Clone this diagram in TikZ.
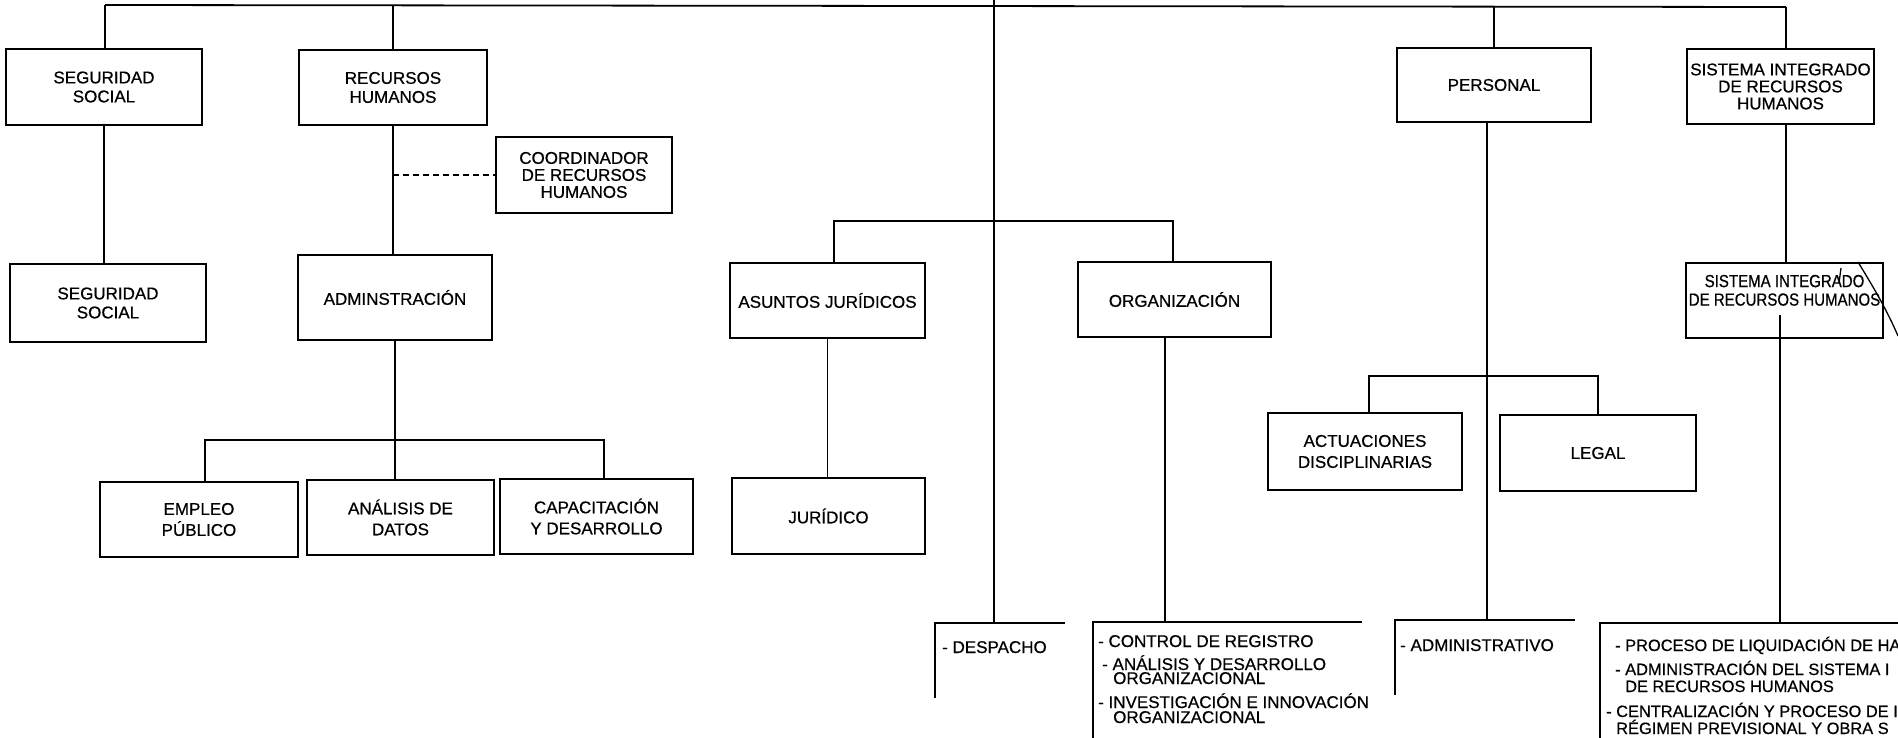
\documentclass[tikz,border=0pt]{standalone}
\usepackage{fontspec}
\setmainfont{Liberation Sans}[FakeBold=0.6]
\newfontfamily\narrowfont{Liberation Sans}[FakeStretch=0.86,FakeBold=0.6]
\begin{document}
\begin{tikzpicture}[x=1pt,y=-1pt,
  unit/.style={draw, line width=1.8pt, inner sep=1pt, outer sep=0pt, align=center,
    font=\fontsize{17}{19}\selectfont},
  tight/.style={font=\fontsize{17}{17}\selectfont},
  loose/.style={font=\fontsize{17}{21}\selectfont},
  ln/.style={line width=1.8pt},
  item/.style={anchor=base west, inner sep=0pt, font=\fontsize{17}{19}\selectfont},
  smallitem/.style={item, font=\fontsize{16.4}{19}\selectfont},
  pen/.style={line width=1.3pt}]
\useasboundingbox (0,0) rectangle (1898,738);
\clip (0,0) rectangle (1898,738);

% ---- boxes ----
\node[unit, minimum width=196pt, minimum height=76pt] (ss1) at (104,87) {SEGURIDAD\\SOCIAL};
\node[unit, minimum width=188pt, minimum height=75pt] (rh) at (393,87.5) {RECURSOS\\HUMANOS};
\node[unit, tight, minimum width=176pt, minimum height=76pt] (coord) at (584,175) {COORDINADOR\\DE RECURSOS\\HUMANOS};
\node[unit, minimum width=196pt, minimum height=78pt] (ss2) at (108,303) {SEGURIDAD\\SOCIAL};
\node[unit, minimum width=194pt, minimum height=85pt] (admin) at (395,297.5) {ADMINSTRACIÓN};
\node[unit, loose, minimum width=198pt, minimum height=75pt] (empleo) at (199,519.5) {EMPLEO\\PÚBLICO};
\node[unit, loose, minimum width=187pt, minimum height=75pt] (analisis) at (400.5,517.5) {ANÁLISIS DE\\DATOS};
\node[unit, loose, minimum width=193pt, minimum height=75pt] (capac) at (596.5,516.5) {CAPACITACIÓN\\Y DESARROLLO};
\node[unit, minimum width=193pt, minimum height=76pt] (jur) at (828.5,516) {JURÍDICO};
\node[unit, minimum width=195pt, minimum height=75pt] (asuntos) at (827.5,300.5) {ASUNTOS JURÍDICOS};
\node[unit, minimum width=193pt, minimum height=75pt] (org) at (1174.5,299.5) {ORGANIZACIÓN};
\node[unit, minimum width=194pt, minimum height=74pt] (personal) at (1494,85) {PERSONAL};
\node[unit, loose, minimum width=194pt, minimum height=77pt] (actu) at (1365,451.5) {ACTUACIONES\\DISCIPLINARIAS};
\node[unit, minimum width=196pt, minimum height=76pt] (legal) at (1598,453) {LEGAL};
\node[unit, tight, minimum width=187pt, minimum height=75pt] (sir1) at (1780.5,86.5) {SISTEMA INTEGRADO\\DE RECURSOS\\HUMANOS};
\node[unit, font=\narrowfont\fontsize{17.5}{18.5}\selectfont, minimum width=197pt, minimum height=75pt] (sir2) at (1784.5,300.5) {SISTEMA INTEGRADO\\DE RECURSOS HUMANOS\\[2pt]};

% ---- coordinates ----
\coordinate (tl) at (105,5);
\coordinate (tr) at (1786,7);
\coordinate (mtop) at (994,0);
\coordinate (b1l) at (205,440);
\coordinate (b1r) at (604,440);
\coordinate (b2l) at (834,221);
\coordinate (b2r) at (1173,221);
\coordinate (b3l) at (1369,376);
\coordinate (b3r) at (1598,376);
\coordinate (orgout) at (1165,337);
\coordinate (perout) at (1487,122);
\coordinate (s2in) at (1780,315);
% open list boxes
\coordinate (despTL) at (935,623);
\coordinate (despTR) at (1065,623);
\coordinate (despBL) at (935,698);
\coordinate (ctrlTL) at (1093,622);
\coordinate (ctrlTR) at (1362,622);
\coordinate (ctrlBL) at (1093,738);
\coordinate (admTL) at (1395,620);
\coordinate (admTR) at (1575,620);
\coordinate (admBL) at (1395,695);
\coordinate (procTL) at (1600,623);
\coordinate (procTR) at (1898,623);
\coordinate (procBL) at (1600,738);

% ---- connectors ----
\draw[ln] (tl) -- (tr);
\draw[ln] (tl) -- (tl |- ss1.north);
\draw[ln] (ss1.south) -- (ss1.south |- ss2.north);
\draw[ln] (rh.north) -- (rh.north |- tl);
\draw[ln] (rh.south) -- (rh.south |- admin.north);
\draw[ln, dashed, dash pattern=on 6pt off 4pt] (coord.west -| rh.south) -- (coord.west);
\draw[ln] (admin.south) -- (admin.south |- analisis.north);
\draw[ln] (b1l |- empleo.north) -- (b1l) -- (b1r) -- (b1r |- capac.north);
\draw[ln] (mtop) -- (mtop |- despTL);
\draw[ln] (b2l |- asuntos.north) -- (b2l) -- (b2r) -- (b2r |- org.north);
\draw[ln] (asuntos.south) -- (asuntos.south |- jur.north);
\draw[ln] (orgout) -- (orgout |- ctrlTL);
\draw[ln] (personal.north) -- (personal.north |- tr);
\draw[ln] (perout) -- (perout |- admTL);
\draw[ln] (b3l |- actu.north) -- (b3l) -- (b3r) -- (b3r |- legal.north);
\draw[ln] (tr) -- (tr |- sir1.north);
\draw[ln] (tr |- sir1.south) -- (tr |- sir2.north);
\draw[ln] (s2in) -- (s2in |- procTL);

% open boxes
\draw[ln] (despBL) -- (despTL) -- (despTR);
\draw[ln] (ctrlBL) -- (ctrlTL) -- (ctrlTR);
\draw[ln] (admBL) -- (admTL) -- (admTR);
\draw[ln] (procBL) -- (procTL) -- (procTR);

% ---- list texts ----
\node[item] (t1) at (942,653) {- DESPACHO};
\node[item] (t2) at (1098,647) {- CONTROL DE REGISTRO};
\node[item] (t3) at (1102,670) {- ANÁLISIS Y DESARROLLO};
\node[item] (t4) at (1113,684) {ORGANIZACIONAL};
\node[item] (t5) at (1098,708) {- INVESTIGACIÓN E INNOVACIÓN};
\node[item] (t6) at (1113,723) {ORGANIZACIONAL};
\node[item] (t7) at (1400,651) {- ADMINISTRATIVO};
\node[smallitem] (t8) at (1615,651) {- PROCESO DE LIQUIDACIÓN DE HA};
\node[smallitem] (t9) at (1615,675) {- ADMINISTRACIÓN DEL SISTEMA I};
\node[smallitem] (t10) at (1625,692) {DE RECURSOS HUMANOS};
\node[smallitem] (t11) at (1606,717) {- CENTRALIZACIÓN Y PROCESO DE IN};
\node[smallitem] (t12) at (1616,734) {RÉGIMEN PREVISIONAL Y OBRA S};

% ---- pen stroke ----
\draw[pen] (1858,262) .. controls (1872,285) and (1886,308) .. (1898,336);
\draw[pen] (1841,268) -- (1839,283);
\end{tikzpicture}
\end{document}
